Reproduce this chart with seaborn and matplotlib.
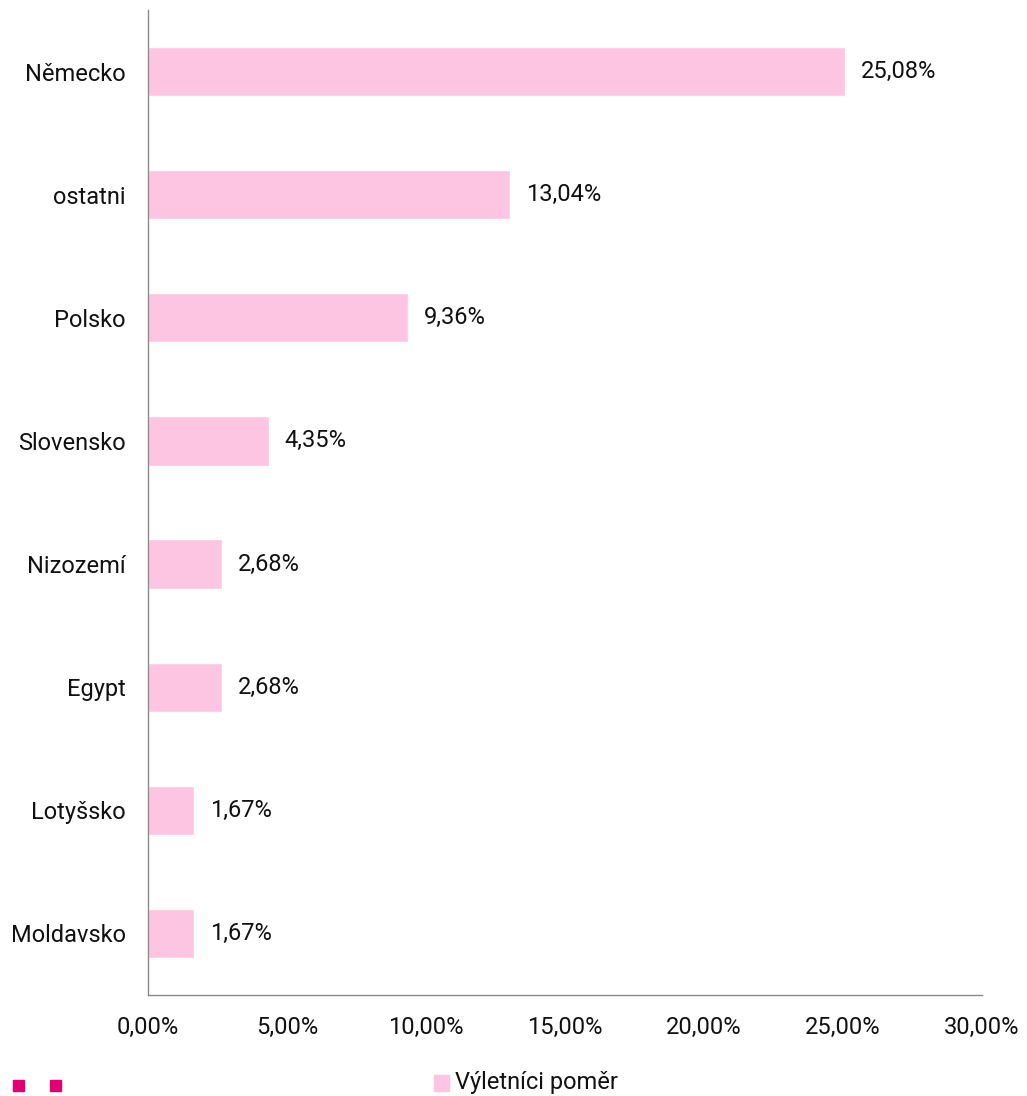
import pandas as pd
import seaborn as sns
import matplotlib.pyplot as plt
from matplotlib.patches import Rectangle

# data
countries = ['Německo', 'ostatni', 'Polsko', 'Slovensko', 'Nizozemí', 'Egypt', 'Lotyšsko', 'Moldavsko']
values = [25.08, 13.04, 9.36, 4.35, 2.68, 2.68, 1.67, 1.67]
x_ticks = [0, 5, 10, 15, 20, 25, 30]
series_name = 'Výletníci poměr'

df = pd.DataFrame({'country': countries, 'value': values})

sns.set_theme(style='white')
plt.rcParams['font.family'] = ['Roboto', 'DejaVu Sans']

bar_color = '#FDC5E2'
magenta = '#E20074'
fs = 17

fig = plt.figure(figsize=(10.27, 10.96), dpi=100)
ax = fig.add_axes([0.1441, 0.0922, 0.812, 0.8987])

sns.barplot(data=df, x='value', y='country', color=bar_color, width=0.4,
            saturation=1, ax=ax)

for i, v in enumerate(values):
    ax.text(v + 0.55, i, f'{v:.2f}%'.replace('.', ','), va='center', ha='left',
            fontsize=fs, color='#111111')

ax.set_xlim(0, 30)
ax.set_ylim(7.5, -0.5)
ax.set_xticks(x_ticks)
ax.set_xticklabels([f'{t:.2f}%'.replace('.', ',') for t in x_ticks], fontsize=fs, color='#111111')
ax.tick_params(axis='y', labelsize=fs, colors='#111111', length=0, pad=16)
ax.tick_params(axis='x', length=0, pad=15)
ax.set_xlabel('')
ax.set_ylabel('')

sns.despine(ax=ax, top=True, right=True)
for s in ['left', 'bottom']:
    ax.spines[s].set_color('#8a8a8a')
    ax.spines[s].set_linewidth(1.0)

# legend
fig.patches.append(Rectangle((434 / 1027, 1 - 1091 / 1096), 15 / 1027, 16 / 1096,
                             transform=fig.transFigure, color=bar_color))
fig.text(455 / 1027, 1 - 1083 / 1096, series_name, fontsize=fs, va='center', ha='left',
         color='#111111')

# decorative magenta squares
for xs in [13, 50]:
    fig.patches.append(Rectangle((xs / 1027, 1 - 1091 / 1096), 11 / 1027, 11 / 1096,
                                 transform=fig.transFigure, color=magenta))

fig.savefig('out.png', dpi=100)
